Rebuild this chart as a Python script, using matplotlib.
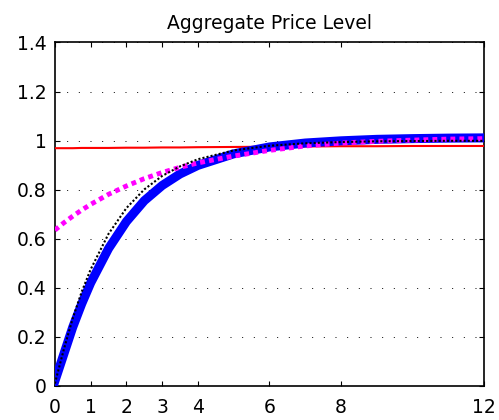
import matplotlib
matplotlib.use("Agg")
import matplotlib.pyplot as plt

plt.rcParams["font.family"] = ["DejaVu Sans"]

# Data
quarters = [0, 0.25, 0.5, 0.75, 1, 1.5, 2, 2.5, 3, 3.5, 4, 5, 6, 7, 8, 9, 10, 11, 12]
price_red = [0.969, 0.969, 0.969, 0.970, 0.970, 0.970, 0.971, 0.971, 0.972, 0.972,
             0.973, 0.974, 0.975, 0.976, 0.977, 0.977, 0.978, 0.978, 0.978]
price_blue = [0.02, 0.13, 0.24, 0.335, 0.42, 0.56, 0.67, 0.755, 0.817, 0.864,
              0.899, 0.946, 0.974, 0.990, 0.999, 1.005, 1.008, 1.010, 1.011]
price_magenta = [0.635, 0.665, 0.692, 0.717, 0.740, 0.781, 0.815, 0.845, 0.870, 0.891,
                 0.909, 0.937, 0.960, 0.978, 0.990, 0.997, 1.002, 1.006, 1.008]
price_black = [0.01, 0.149, 0.276, 0.384, 0.475, 0.620, 0.725, 0.801, 0.856, 0.895,
               0.924, 0.960, 0.979, 0.989, 0.994, 0.997, 0.998, 0.999, 0.999]

xticks = [0, 1, 2, 3, 4, 6, 8, 12]
yticks = [0, 0.2, 0.4, 0.6, 0.8, 1, 1.2, 1.4]
yticklabels = ["0", "0.2", "0.4", "0.6", "0.8", "1", "1.2", "1.4"]

fig = plt.figure(figsize=(4.99, 4.2), dpi=100)
ax = fig.add_axes([0.110, 0.081, 0.860, 0.818])

ax.plot(quarters, price_red, color="red", lw=1.5, zorder=3)
ax.plot(quarters, price_blue, color="blue", lw=6.5, zorder=4)
ax.plot(quarters, price_magenta, color="magenta", lw=3.5, dashes=(1, 0.85), zorder=5)
ax.plot(quarters, price_black, color="black", lw=1.5, dashes=(1, 1), zorder=6)

ax.set_xlim(0, 12)
ax.set_ylim(0, 1.4)
ax.set_xticks(xticks)
ax.set_xticklabels([str(t) for t in xticks])
ax.set_yticks(yticks)
ax.set_yticklabels(yticklabels)
ax.tick_params(direction="in", top=True, right=True, length=3.6, width=0.8,
               labelsize=13.5)
ax.tick_params(axis="y", pad=6)
ax.tick_params(axis="x", pad=9)
ax.grid(axis="y", linestyle=(0, (1, 11)), linewidth=0.7, color="black")
for s in ax.spines.values():
    s.set_linewidth(1.2)

ax.set_title("Aggregate Price Level", fontsize=13.5, pad=10)

fig.savefig("out.png", dpi=100)
